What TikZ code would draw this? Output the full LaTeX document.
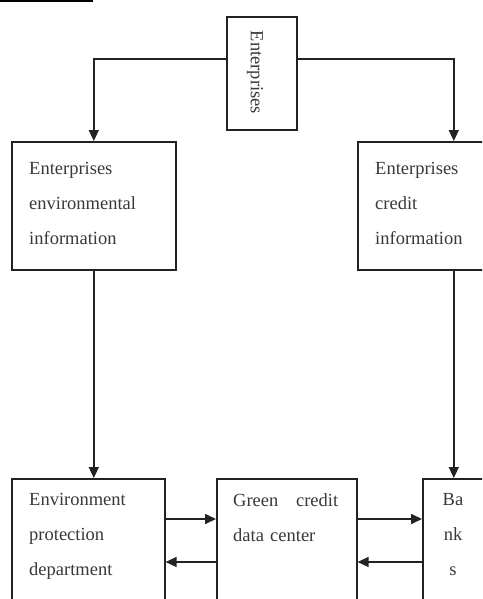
\documentclass[tikz,border=0pt]{standalone}
\usepackage{fontspec}
\setmainfont{Liberation Serif}
\usetikzlibrary{arrows.meta}
\definecolor{linec}{HTML}{222222}
\definecolor{textc}{HTML}{383838}
\begin{document}
\begin{tikzpicture}[x=1pt,y=-1pt,
  box/.style={draw=linec, line width=1.6pt, inner sep=0pt, anchor=north west},
  txt/.style={text=textc, inner sep=0pt, anchor=north west, align=left,
              font=\fontsize{18.5}{35}\selectfont},
  arr/.style={draw=linec, line width=1.6pt, -{Triangle[length=11pt,width=10pt]}}]
\useasboundingbox (0,0) rectangle (482,599);
\clip (0,0) rectangle (482,599);
\fill[black] (0,0) rectangle (93,2.5);
% boxes
\node[box, minimum width=70pt, minimum height=113pt] (ent) at (226,16) {};
\node[text=textc, rotate=-90, inner sep=0pt, font=\fontsize{18.5}{22}\selectfont] (enttxt) at (255,72.5) {Enterprises};
\node[box, minimum width=164pt, minimum height=128pt] (envinfo) at (11,141) {};
\node[box, minimum width=192pt, minimum height=128pt] (credinfo) at (357,141) {};
\node[box, minimum width=153pt, minimum height=150pt] (envdept) at (11,478) {};
\node[box, minimum width=140pt, minimum height=150pt] (green) at (216,478) {};
\node[box, minimum width=62pt, minimum height=150pt] (banks) at (422,478) {};
% texts
\node[txt] (t1) at (29,162.5) {Enterprises\\environmental\\information};
\node[txt] (t2) at (375,162.5) {Enterprises\\credit\\information};
\node[txt] (t3) at (29,493.5) {Environment\\protection\\department};
\node[txt, text width=105pt] (t4) at (233,493.5) {Green\hfill credit\\data center};
\node[txt, align=center, anchor=north] (t5) at (453,493.5) {Ba\\nk\\s};
% connectors
\draw[arr] ([yshift=14.5pt]ent.west) -| (envinfo.north);
\draw[arr] ([yshift=14.5pt]ent.east) -| (credinfo.north);
\draw[arr] (envinfo.south) -- (envdept.north -| envinfo.south);
\draw[arr] (credinfo.south) -- (banks.north -| credinfo.south);
\draw[arr] ([yshift=-41pt]envdept.north east) -- ([yshift=-41pt]green.north west);
\draw[arr] ([yshift=-84pt]green.north west) -- ([yshift=-84pt]envdept.north east);
\draw[arr] ([yshift=-41pt]green.north east) -- ([yshift=-41pt]banks.north west);
\draw[arr] ([yshift=-84pt]banks.north west) -- ([yshift=-84pt]green.north east);
\end{tikzpicture}
\end{document}
